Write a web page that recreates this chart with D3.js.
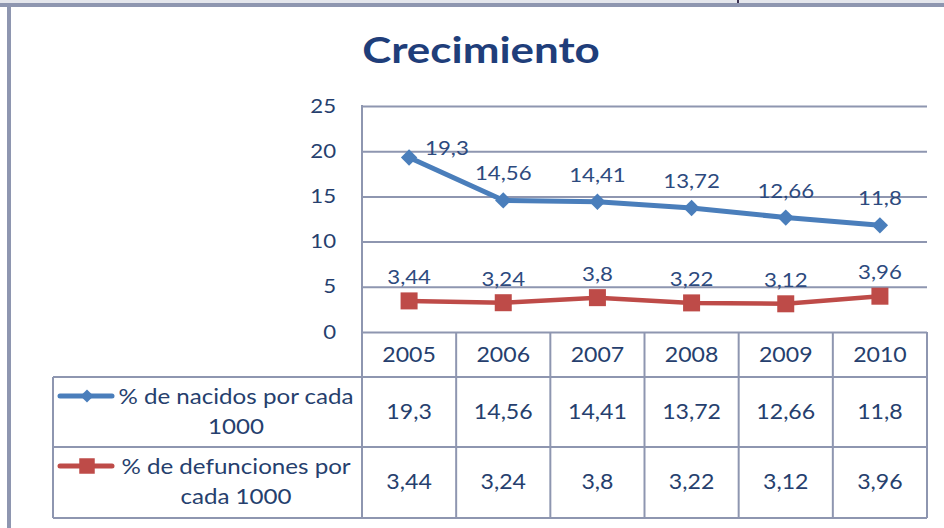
<!DOCTYPE html>
<html>
<head>
<meta charset="utf-8">
<script src="https://cdn.jsdelivr.net/npm/d3@7"></script>
<style>
  body { margin: 0; background: #fff; }
  text { font-family: Lato, "Open Sans", sans-serif; }
</style>
</head>
<body>
<svg id="chart" width="944" height="528"></svg>
<script>
// data
var years = ["2005", "2006", "2007", "2008", "2009", "2010"];
var nacidos = [19.3, 14.56, 14.41, 13.72, 12.66, 11.8];
var defunciones = [3.44, 3.24, 3.8, 3.22, 3.12, 3.96];
var yTicks = [0, 5, 10, 15, 20, 25];
var nacidosLabel = ["% de nacidos por cada", "1000"];
var defuncionesLabel = ["% de defunciones por", "cada 1000"];

var gridColor = "#8e96b0";
var textColor = "#263f6e";
var blue = "#4a7ebb";
var red = "#be4b48";
var stretch = 1.17; // the original font runs wider than Lato

var svg = d3.select("#chart");
var fmt = function(v) { return String(v).replace(".", ","); };

// move x/y into a transform so the text can be widened
function widen(sel, k) {
  sel.each(function() {
    var t = d3.select(this);
    t.attr("transform", "translate(" + t.attr("x") + "," + t.attr("y") + ") scale(" + k + ",1)")
      .attr("x", 0).attr("y", 0);
  });
}

// outer frame
svg.append("rect").attr("x", 0).attr("y", 0).attr("width", 944).attr("height", 3).attr("fill", "#e4e6ec");
svg.append("line").attr("x1", 0).attr("x2", 944).attr("y1", 5).attr("y2", 5)
    .attr("stroke", gridColor).attr("stroke-width", 4);
svg.append("line").attr("x1", 9).attr("x2", 9).attr("y1", 3).attr("y2", 528)
    .attr("stroke", gridColor).attr("stroke-width", 4);
svg.append("line").attr("x1", 738).attr("x2", 738).attr("y1", 0).attr("y2", 3)
    .attr("stroke", "#3a3050").attr("stroke-width", 2);

// title
svg.append("text")
    .attr("x", 481).attr("y", 63)
    .attr("text-anchor", "middle")
    .attr("font-size", 36).attr("font-weight", "bold")
    .attr("fill", "#1f3e7a")
    .text("Crecimiento")
    .call(widen, 1.22);

var x = d3.scaleBand().domain(years).range([362, 927]);
var y = d3.scaleLinear().domain([0, 25]).range([332, 106]);
var cx = function(i) { return x(years[i]) + x.bandwidth() / 2; };

// y axis + gridlines
var yAxis = svg.append("g")
    .attr("transform", "translate(362,0)")
    .call(d3.axisLeft(y).tickValues(yTicks).tickSize(-(927 - 362)).tickPadding(26).tickFormat(fmt));
yAxis.select(".domain").remove();
yAxis.selectAll(".tick line").attr("stroke", gridColor).attr("stroke-width", 2);
yAxis.selectAll(".tick text").attr("fill", textColor).attr("font-size", 19)
    .attr("font-family", "Lato, sans-serif")
    .attr("x", -26 / stretch)
    .attr("transform", "scale(" + stretch + ",1)");
svg.append("line").attr("x1", 362).attr("x2", 362).attr("y1", y(25) - 1).attr("y2", 518)
    .attr("stroke", gridColor).attr("stroke-width", 2);

// table grid
var table = svg.append("g");
var rowBottom = 518;
table.append("line").attr("x1", 53).attr("x2", 927).attr("y1", 377).attr("y2", 377);
table.append("line").attr("x1", 53).attr("x2", 927).attr("y1", 447).attr("y2", 447);
table.append("line").attr("x1", 53).attr("x2", 927).attr("y1", rowBottom).attr("y2", rowBottom);
table.append("line").attr("x1", 53).attr("x2", 53).attr("y1", 377).attr("y2", rowBottom);
table.selectAll("line.col")
    .data(years)
    .enter().append("line")
    .attr("class", "col")
    .attr("x1", function(d) { return x(d) + x.bandwidth(); })
    .attr("x2", function(d) { return x(d) + x.bandwidth(); })
    .attr("y1", 332).attr("y2", rowBottom);
table.selectAll("line").attr("stroke", gridColor).attr("stroke-width", 2);

// table text
var cellText = function(values, yMid) {
  svg.append("g").selectAll("text")
      .data(values)
      .enter().append("text")
      .attr("x", function(d, i) { return cx(i); })
      .attr("y", yMid)
      .attr("dy", "0.35em")
      .attr("text-anchor", "middle")
      .attr("font-size", 21)
      .attr("fill", textColor)
      .text(function(d) { return typeof d === "number" ? fmt(d) : d; })
      .call(widen, 1.1);
};
cellText(years, 355);
cellText(nacidos, 412);
cellText(defunciones, 482);

// legend cells
var legendCell = function(lines, yTop, color, shape) {
  var g = svg.append("g");
  var iy = yTop + 19;
  g.append("line").attr("x1", 60).attr("x2", 112).attr("y1", iy).attr("y2", iy)
      .attr("stroke", color).attr("stroke-width", 5).attr("stroke-linecap", "round");
  g.append("path")
      .attr("transform", "translate(87," + iy + ")")
      .attr("d", d3.symbol().type(shape).size(shape === d3.symbolSquare ? 240 : 110))
      .attr("fill", color);
  g.selectAll("text")
      .data(lines)
      .enter().append("text")
      .attr("x", 236)
      .attr("y", function(d, i) { return yTop + 27 + i * 30; })
      .attr("text-anchor", "middle")
      .attr("font-size", 21)
      .attr("fill", textColor)
      .text(function(d) { return d; })
      .call(widen, 1.15);
};
legendCell(nacidosLabel, 377, blue, d3.symbolDiamond2);
legendCell(defuncionesLabel, 447, red, d3.symbolSquare);

// lines
var line = d3.line()
    .x(function(d, i) { return cx(i); })
    .y(function(d) { return y(d); });

svg.append("path").datum(defunciones)
    .attr("d", line).attr("fill", "none")
    .attr("stroke", red).attr("stroke-width", 4.5);
svg.selectAll("rect.def")
    .data(defunciones)
    .enter().append("rect")
    .attr("class", "def")
    .attr("x", function(d, i) { return cx(i) - 8.5; })
    .attr("y", function(d) { return y(d) - 8.5; })
    .attr("width", 17).attr("height", 17)
    .attr("fill", red);

svg.append("path").datum(nacidos)
    .attr("d", line).attr("fill", "none")
    .attr("stroke", blue).attr("stroke-width", 5);
svg.selectAll("path.nac")
    .data(nacidos)
    .enter().append("path")
    .attr("class", "nac")
    .attr("transform", function(d, i) { return "translate(" + cx(i) + "," + y(d) + ")"; })
    .attr("d", d3.symbol().type(d3.symbolDiamond2).size(170))
    .attr("fill", blue);

// data labels
svg.selectAll("text.lnac")
    .data(nacidos)
    .enter().append("text")
    .attr("class", "lnac")
    .attr("x", function(d, i) { return i === 0 ? cx(i) + 16 : cx(i); })
    .attr("y", function(d, i) { return i === 0 ? y(d) - 3 : y(d) - 20; })
    .attr("text-anchor", function(d, i) { return i === 0 ? "start" : "middle"; })
    .attr("font-size", 19)
    .attr("fill", "#2d4a7e")
    .text(fmt)
    .call(widen, stretch);
svg.selectAll("text.ldef")
    .data(defunciones)
    .enter().append("text")
    .attr("class", "ldef")
    .attr("x", function(d, i) { return cx(i); })
    .attr("y", function(d) { return y(d) - 17; })
    .attr("text-anchor", "middle")
    .attr("font-size", 19)
    .attr("fill", "#2d4a7e")
    .text(fmt)
    .call(widen, stretch);
</script>
</body>
</html>
